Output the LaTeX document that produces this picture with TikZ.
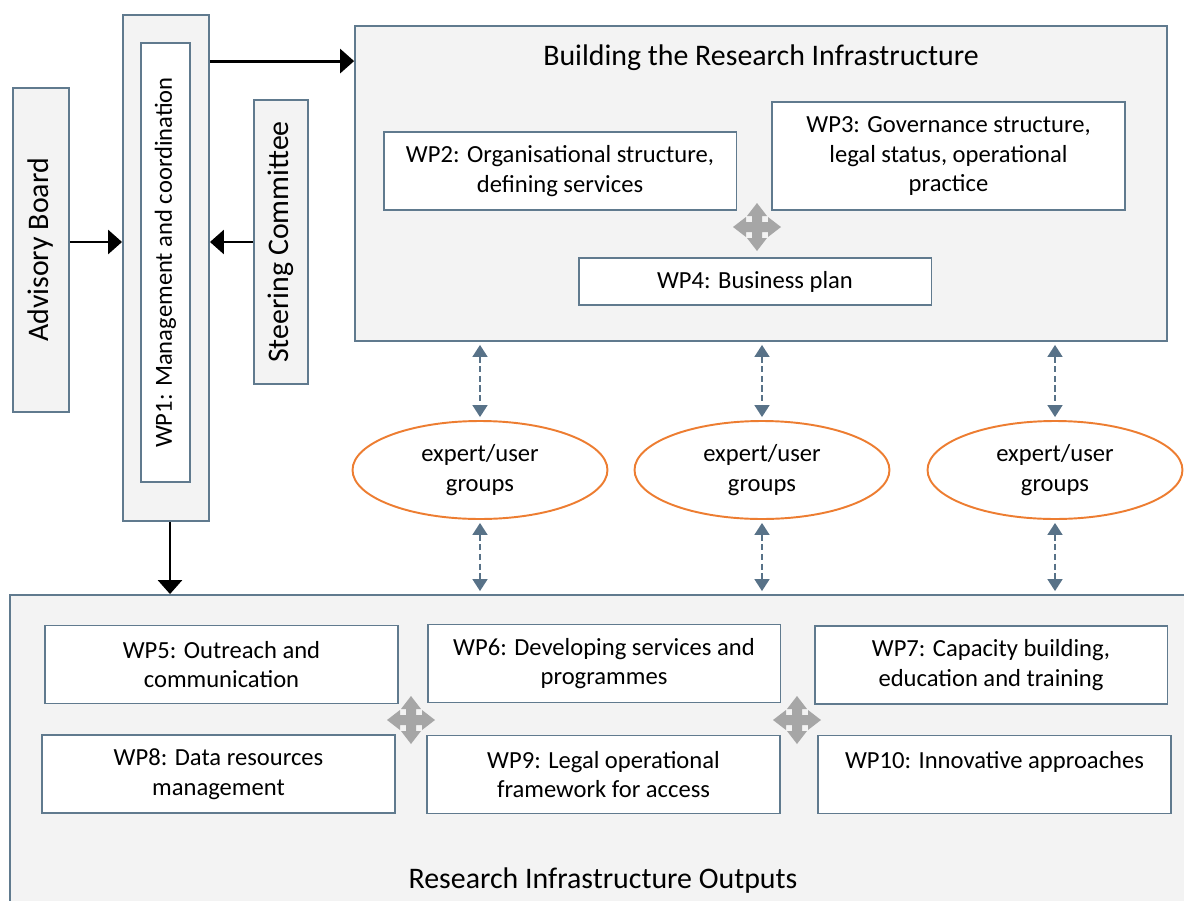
\documentclass[tikz,border=0pt]{standalone}
\usepackage{fontspec}
\setmainfont{Carlito}
\usetikzlibrary{calc}
\usetikzlibrary{arrows.meta}
\usetikzlibrary{shapes.geometric}
\usepackage{xcolor}

\definecolor{edgeblue}{RGB}{96,122,142}
\definecolor{linkblue}{RGB}{88,114,136}
\definecolor{grouporange}{RGB}{237,125,49}
\definecolor{panelgray}{RGB}{243,243,243}
\definecolor{movegray}{RGB}{166,166,166}

\begin{document}
\begin{tikzpicture}[x=0.02cm, y=-0.02cm,
	font=\fontsize{14}{17}\selectfont,
	panel/.style = {draw=edgeblue, fill=panelgray, line width=1.1pt, inner sep=0pt},
	wpbox/.style = {draw=edgeblue, fill=white, line width=1.1pt, align=center, minimum width=7.06cm, minimum height=1.56cm, inner sep=2pt},
	sidebox/.style = {draw=edgeblue, fill=panelgray, line width=1.1pt, rotate=90, inner sep=0pt},
	group/.style = {ellipse, draw=grouporange, fill=white, line width=1.1pt, minimum width=5.1cm, minimum height=1.96cm, align=center, inner sep=0pt},
	feed/.style = {line width=1.7pt, -{Triangle[length=0.28cm, width=0.48cm]}},
	link/.style = {draw=linkblue, line width=1pt, dash pattern=on 3.5pt off 2pt, shorten <=0.06cm, shorten >=0.06cm,
		{Triangle[length=0.24cm, width=0.3cm]}-{Triangle[length=0.24cm, width=0.3cm]}},
	title/.style = {font=\fontsize{17}{20}\selectfont, inner sep=1pt},
	moves/.pic = {
		\fill[movegray] (24,0) -- (11,10) -- (11,5) -- (5,5) -- (5,11) -- (10,11) -- (0,24) -- (-10,11)
			-- (-5,11) -- (-5,5) -- (-11,5) -- (-11,10) -- (-24,0) -- (-11,-10) -- (-11,-5) -- (-5,-5)
			-- (-5,-11) -- (-10,-11) -- (0,-24) -- (10,-11) -- (5,-11) -- (5,-5) -- (11,-5) -- (11,-10) -- cycle;
	}
]
\useasboundingbox (0,0) rectangle (1184,900);
\clip (0,0) rectangle (1184,900);

% Governance column on the left
\node[sidebox, minimum width=6.48cm, minimum height=1.12cm, font=\fontsize{17}{20}\selectfont] (adv) at (41,250) {Advisory Board};
\node[panel, minimum width=1.72cm, minimum height=10.12cm] (wp1out) at (166,268) {};
\node[sidebox, fill=white, minimum width=8.78cm, minimum height=0.98cm] (wp1) at (165.5,262.5) {WP1: Management and coordination};
\node[sidebox, minimum width=5.68cm, minimum height=1.08cm, font=\fontsize{17}{20}\selectfont] (steer) at (281,242) {Steering Committee};

% Upper panel: building the infrastructure
\node[panel, minimum width=16.24cm, minimum height=6.3cm] (build) at (761,183.5) {};
\node[title] (buildtitle) at ($(build.north)+(0,33)$) {Building the Research Infrastructure};
\node[wpbox] (wp2) at (560,171) {WP2: Organisational structure,\\ defining services};
\node[wpbox, minimum height=2.16cm] (wp3) at (948.5,156) {WP3: Governance structure,\\ legal status, operational\\ practice};
\node[wpbox, minimum height=0.94cm] (wp4) at (755,281.5) {WP4: Business plan};
\pic at (757,227) {moves};

% Lower panel: outputs
\node[panel, minimum width=23.8cm, minimum height=6.5cm] (outputs) at (605,757.5) {};
\node[title] (outtitle) at ($(outputs.north)+(-2,286)$) {Research Infrastructure Outputs};
\node[wpbox] (wp5) at (221.5,664.5) {WP5: Outreach and\\ communication};
\node[wpbox] (wp6) at (604,663.5) {WP6: Developing services and\\ programmes};
\node[wpbox] (wp7) at (991,665) {WP7: Capacity building,\\ education and training};
\node[wpbox] (wp8) at (218.5,774) {WP8: Data resources\\ management};
\node[wpbox] (wp9) at (603.5,774.5) {WP9: Legal operational\\ framework for access};
\node[wpbox] (wp10) at (994.5,774.5) {WP10: Innovative approaches\\ \mbox{}};
\foreach \X in {411,797} {
	\pic at (\X,720) {moves};
}

% Expert/user groups between the panels
\foreach \N/\X in {g1/480, g2/762, g3/1055} {
	\node[group] (\N) at (\X,470) {expert/user\\ groups};
	\draw[link] (\N.north |- build.south) -- (\N.north);
	\draw[link] (\N.south) -- (\N.south |- outputs.north);
}

% Reporting arrows around WP1
\coordinate (wp1tap) at ($(wp1out.north east)+(0,47)$);
\coordinate (wp1foot) at ($(wp1out.south)+(4,0)$);
\draw[feed] (wp1tap) -- (wp1tap -| build.west);
\draw[feed] (adv.south |- steer.center) -- (wp1out.west |- steer.center);
\draw[feed] (steer.north) -- (wp1out.east |- steer.center);
\draw[feed] (wp1foot) -- (wp1foot |- outputs.north);

\end{tikzpicture}
\end{document}
